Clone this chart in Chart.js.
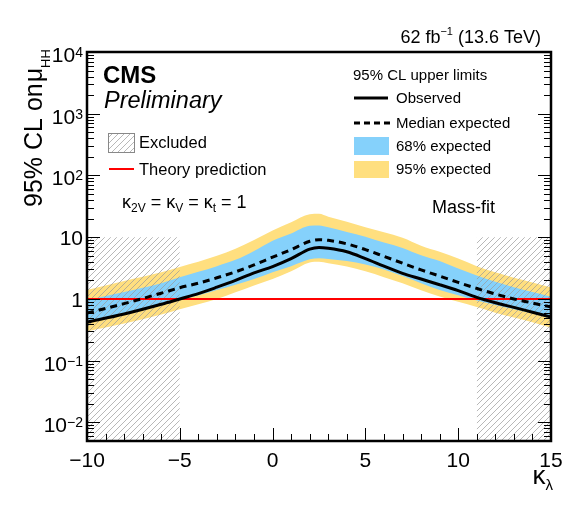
<!DOCTYPE html>
<html>
<head>
<meta charset="utf-8">
<script src="https://cdn.jsdelivr.net/npm/chart.js@4.4.0/dist/chart.umd.min.js"></script>
<style>
  html, body { margin: 0; padding: 0; background: #fff; }
  canvas { display: block; }
</style>
</head>
<body>
<canvas id="limitChart" width="580" height="519"></canvas>
<script>
// scan points in kappa_lambda
const kappaLambda = [-10, -8, -6, -5, -4, -3, -2, -1, 0, 1, 2, 2.5, 3, 4, 5, 6, 7, 8, 9, 10, 11, 12, 13, 14, 15];
// 95% CL upper limits on mu_HH
const observed = [0.42, 0.57, 0.82, 1.0, 1.22, 1.55, 2.0, 2.65, 3.35, 4.5, 6.4, 6.8, 6.6, 5.8, 4.5, 3.4, 2.6, 2.1, 1.7, 1.36, 1.06, 0.87, 0.73, 0.61, 0.51];
const expected = [0.59, 0.84, 1.24, 1.52, 1.8, 2.2, 2.75, 3.55, 4.75, 6.3, 8.6, 9.1, 8.9, 7.8, 6.3, 4.9, 3.8, 2.95, 2.35, 1.85, 1.48, 1.2, 1.0, 0.86, 0.74];
const band68Low = [0.41, 0.56, 0.79, 0.96, 1.15, 1.4, 1.7, 2.1, 2.7, 3.4, 4.4, 4.55, 4.45, 4.1, 3.6, 3.0, 2.35, 1.8, 1.4, 1.15, 0.94, 0.8, 0.68, 0.58, 0.49];
const band68High = [0.96, 1.3, 1.8, 2.24, 2.75, 3.4, 4.3, 6.0, 8.8, 11.5, 15.3, 15.5, 14.5, 12.2, 10.2, 8.2, 6.7, 5.1, 4.1, 3.1, 2.4, 1.9, 1.55, 1.3, 1.09];
const band95Low = [0.30, 0.40, 0.56, 0.68, 0.82, 1.0, 1.28, 1.65, 2.1, 2.8, 3.9, 4.0, 3.8, 3.35, 2.8, 2.25, 1.8, 1.38, 1.1, 0.9, 0.74, 0.6, 0.5, 0.42, 0.34];
const band95High = [1.4, 1.95, 2.7, 3.3, 4.0, 5.0, 6.5, 9.0, 12.8, 17.5, 23.5, 24, 21.5, 17.8, 14.5, 12.0, 9.8, 7.3, 5.8, 4.5, 3.4, 2.7, 2.2, 1.85, 1.54];

// excluded kappa_lambda ranges (hatched), drawn up to excludedTop
const excludedLeft = [-10, -5];
const excludedRight = [11, 15];
const excludedTop = 10;
const theoryValue = 1;

// tick labels
const xTicks = [-10, -5, 0, 5, 10, 15];
const xTickLabels = ['\u221210', '\u22125', '0', '5', '10', '15'];
const yTicks = [0.01, 0.1, 1, 10, 100, 1000, 10000];
const yTickLabels = [['10', '\u22122'], ['10', '\u22121'], ['1', ''], ['10', ''], ['10', '2'], ['10', '3'], ['10', '4']];

const FONT = "'Liberation Sans', Arial, sans-serif";
const BLUE = '#85d1fb';
const YELLOW = '#ffdf7f';

const canvas = document.getElementById('limitChart');
const ctx = canvas.getContext('2d');

// hatch pattern for the excluded areas
const tile = document.createElement('canvas');
tile.width = 6;
tile.height = 6;
const tg = tile.getContext('2d');
tg.strokeStyle = '#9a9a9a';
tg.lineWidth = 0.7;
tg.beginPath();
tg.moveTo(0, 6); tg.lineTo(6, 0);
tg.moveTo(-1, 1); tg.lineTo(1, -1);
tg.moveTo(5, 7); tg.lineTo(7, 5);
tg.stroke();
const hatch = ctx.createPattern(tile, 'repeat');

const toPoints = (xs, ys) => xs.map((x, i) => ({ x: x, y: ys[i] }));

function richWidth(c, parts) {
  let w = 0;
  parts.forEach(p => { c.font = p.font; w += c.measureText(p.t).width + (p.gap || 0); });
  return w;
}

function drawRich(c, parts, x, y, align) {
  let cx = align === 'right' ? x - richWidth(c, parts) : x;
  c.textAlign = 'left';
  c.textBaseline = 'alphabetic';
  parts.forEach(p => {
    c.font = p.font;
    c.fillText(p.t, cx, y + (p.dy || 0));
    cx += c.measureText(p.t).width + (p.gap || 0);
  });
}

// frame, inward ticks and all labels
const decorations = {
  id: 'decorations',
  afterDatasetsDraw(chart) {
    const c = chart.ctx;
    const a = chart.chartArea;
    const xs = chart.scales.x;
    const ys = chart.scales.y;
    c.save();
    c.strokeStyle = '#000';
    c.lineWidth = 1;
    c.beginPath();
    // x ticks (bottom only)
    for (let k = -10; k <= 15; k++) {
      const px = Math.round(xs.getPixelForValue(k)) + 0.5;
      const len = xTicks.includes(k) ? 13 : 7;
      c.moveTo(px, a.bottom);
      c.lineTo(px, a.bottom - len);
    }
    // y ticks (left and right)
    for (let d = -3; d <= 4; d++) {
      for (let m = 1; m <= 9; m++) {
        const v = m * Math.pow(10, d);
        if (v < ys.min || v > ys.max) continue;
        const py = Math.round(ys.getPixelForValue(v)) + 0.5;
        const len = m === 1 ? 13 : 7;
        c.moveTo(a.left, py); c.lineTo(a.left + len, py);
        c.moveTo(a.right, py); c.lineTo(a.right - len, py);
      }
    }
    c.stroke();
    c.lineWidth = 2.5;
    c.strokeRect(a.left, a.top, a.right - a.left, a.bottom - a.top);
    c.restore();
  },
  afterDraw(chart) {
    const c = chart.ctx;
    const a = chart.chartArea;
    const xs = chart.scales.x;
    const ys = chart.scales.y;
    c.save();
    c.fillStyle = '#000';

    // x tick labels
    c.font = '21px ' + FONT;
    c.textAlign = 'center';
    c.textBaseline = 'alphabetic';
    xTicks.forEach((v, i) => c.fillText(xTickLabels[i], xs.getPixelForValue(v), a.bottom + 26));

    // y tick labels
    const labelRight = a.left - 4;
    yTicks.forEach((v, i) => {
      const py = ys.getPixelForValue(v);
      const [base, sup] = yTickLabels[i];
      if (sup) {
        drawRich(c, [
          { t: base, font: '21px ' + FONT },
          { t: sup, font: '14px ' + FONT, dy: -5 }
        ], labelRight, py + 10, 'right');
      } else {
        drawRich(c, [{ t: base, font: '21px ' + FONT }], labelRight, py + 8, 'right');
      }
    });

    // axis titles
    c.save();
    c.translate(42, 207);
    c.rotate(-Math.PI / 2);
    drawRich(c, [
      { t: '95% CL on', font: '25px ' + FONT, gap: 1 },
      { t: '\u03bc', font: '25px ' + FONT },
      { t: 'HH', font: '13px ' + FONT, dy: 8 }
    ], 0, 0, 'left');
    c.restore();
    drawRich(c, [
      { t: '\u03ba', font: '26px ' + FONT },
      { t: '\u03bb', font: '15px ' + FONT, dy: 6 }
    ], 553, 484, 'right');

    // luminosity label
    drawRich(c, [
      { t: '62 fb', font: '18px ' + FONT },
      { t: '\u22121', font: '11px ' + FONT, dy: -8 },
      { t: ' (13.6 TeV)', font: '18px ' + FONT }
    ], 541, 43, 'right');

    // CMS Preliminary
    c.textAlign = 'left';
    c.font = 'bold 24px ' + FONT;
    c.fillText('CMS', 103, 83);
    c.font = 'italic 23.5px ' + FONT;
    c.fillText('Preliminary', 104, 108);

    // left legend
    c.fillStyle = hatch;
    c.fillRect(108, 133, 26, 19);
    c.strokeStyle = '#888';
    c.lineWidth = 1;
    c.strokeRect(108.5, 133.5, 26, 19);
    c.fillStyle = '#000';
    c.font = '16.5px ' + FONT;
    c.fillText('Excluded', 139, 148);
    c.strokeStyle = '#ff0000';
    c.lineWidth = 2;
    c.beginPath();
    c.moveTo(109, 169); c.lineTo(134, 169);
    c.stroke();
    c.fillText('Theory prediction', 139, 175);

    // coupling label
    const sub = '12px ' + FONT;
    const main = '18px ' + FONT;
    drawRich(c, [
      { t: '\u03ba', font: main },
      { t: '2V', font: sub, dy: 4 },
      { t: ' = ', font: main },
      { t: '\u03ba', font: main },
      { t: 'V', font: sub, dy: 4 },
      { t: ' = ', font: main },
      { t: '\u03ba', font: main },
      { t: 't', font: sub, dy: 4 },
      { t: ' = 1', font: main }
    ], 122, 208, 'left');

    // right legend
    c.font = '15px ' + FONT;
    c.fillText('95% CL upper limits', 353, 80);
    c.strokeStyle = '#000';
    c.lineWidth = 3;
    c.beginPath();
    c.moveTo(354, 98); c.lineTo(388, 98);
    c.stroke();
    c.fillText('Observed', 396, 103);
    c.setLineDash([6, 4]);
    c.beginPath();
    c.moveTo(354, 123); c.lineTo(390, 123);
    c.stroke();
    c.setLineDash([]);
    c.fillText('Median expected', 396, 128);
    c.fillStyle = BLUE;
    c.fillRect(354, 137, 35, 18);
    c.fillStyle = '#000';
    c.fillText('68% expected', 396, 151);
    c.fillStyle = YELLOW;
    c.fillRect(354, 161, 35, 17);
    c.fillStyle = '#000';
    c.fillText('95% expected', 396, 174);

    c.font = '18px ' + FONT;
    c.fillText('Mass-fit', 432, 213);
    c.restore();
  }
};

const lineBase = { pointRadius: 0, cubicInterpolationMode: 'monotone' };
const noBorder = { borderWidth: 0, borderColor: 'rgba(0,0,0,0)' };

new Chart(ctx, {
  type: 'line',
  data: {
    datasets: [
      Object.assign({ label: 'Observed', data: toPoints(kappaLambda, observed),
        borderColor: '#000', borderWidth: 3, fill: false, order: 1 }, lineBase),
      Object.assign({ label: 'Median expected', data: toPoints(kappaLambda, expected),
        borderColor: '#000', borderWidth: 3, borderDash: [7, 5], fill: false, order: 2 }, lineBase),
      { label: 'Theory prediction', data: [{ x: -10, y: theoryValue }, { x: 15, y: theoryValue }],
        borderColor: '#ff0000', borderWidth: 2, pointRadius: 0, fill: false, order: 3 },
      Object.assign({ label: 'Excluded', data: excludedLeft.map(x => ({ x: x, y: excludedTop })),
        backgroundColor: hatch, fill: 'start', pointRadius: 0, order: 4 }, noBorder),
      Object.assign({ label: 'Excluded', data: excludedRight.map(x => ({ x: x, y: excludedTop })),
        backgroundColor: hatch, fill: 'start', pointRadius: 0, order: 5 }, noBorder),
      Object.assign({ label: '68% expected', data: toPoints(kappaLambda, band68High),
        backgroundColor: BLUE, fill: '+1', order: 6 }, lineBase, noBorder),
      Object.assign({ label: '68% low', data: toPoints(kappaLambda, band68Low),
        fill: false, order: 7 }, lineBase, noBorder),
      Object.assign({ label: '95% expected', data: toPoints(kappaLambda, band95High),
        backgroundColor: YELLOW, fill: '+1', order: 8 }, lineBase, noBorder),
      Object.assign({ label: '95% low', data: toPoints(kappaLambda, band95Low),
        fill: false, order: 9 }, lineBase, noBorder)
    ]
  },
  options: {
    responsive: false,
    animation: false,
    devicePixelRatio: 1,
    layout: { padding: { top: 52, right: 29, left: 0, bottom: 0 } },
    plugins: {
      legend: { display: false },
      tooltip: { enabled: false }
    },
    scales: {
      x: {
        type: 'linear', min: -10, max: 15,
        grid: { display: false }, border: { display: false }, ticks: { display: false },
        afterFit: s => { s.height = 78; }
      },
      y: {
        type: 'logarithmic', min: 0.005, max: 10000,
        grid: { display: false }, border: { display: false }, ticks: { display: false },
        afterFit: s => { s.width = 87; }
      }
    }
  },
  plugins: [decorations]
});
</script>
</body>
</html>
